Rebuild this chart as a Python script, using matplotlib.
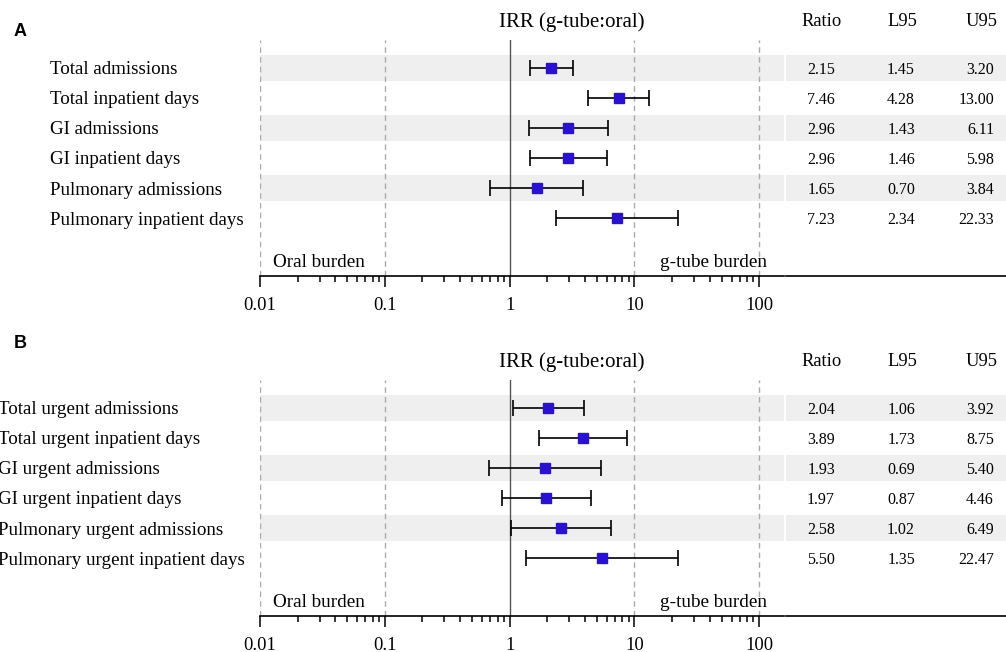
import numpy as np
import matplotlib
matplotlib.use('Agg')
import matplotlib.pyplot as plt
from matplotlib.transforms import blended_transform_factory

plt.rcParams['font.family'] = ['Liberation Serif', 'DejaVu Serif']

# panel A data
labels_a = ["Total admissions", "Total inpatient days", "GI admissions",
            "GI inpatient days", "Pulmonary admissions", "Pulmonary inpatient days"]
ratio_a = [2.15, 7.46, 2.96, 2.96, 1.65, 7.23]
l95_a = [1.45, 4.28, 1.43, 1.46, 0.70, 2.34]
u95_a = [3.20, 13.00, 6.11, 5.98, 3.84, 22.33]

# panel B data
labels_b = ["Total urgent admissions", "Total urgent inpatient days", "GI urgent admissions",
            "GI urgent inpatient days", "Pulmonary urgent admissions",
            "Pulmonary urgent inpatient days"]
ratio_b = [2.04, 3.89, 1.93, 1.97, 2.58, 5.50]
l95_b = [1.06, 1.73, 0.69, 0.87, 1.02, 1.35]
u95_b = [3.92, 8.75, 5.40, 4.46, 6.49, 22.47]

ticks = [0.01, 0.1, 1, 10, 100]
tick_labels = ["0.01", "0.1", "1", "10", "100"]

W, H = 1006, 652
fig = plt.figure(figsize=(W / 100, H / 100), dpi=100)

BAND = '#efefef'
BLUE = '#2a10d0'
VA = 'center_baseline'


def panel(top, labels, ratio, lo, hi, label_x):
    ratio = np.array(ratio)
    lo = np.array(lo)
    hi = np.array(hi)
    y = np.arange(len(labels))
    h = 236
    bottom = 1 - (top + h) / H

    ax = fig.add_axes([260 / W, bottom, 524 / W, h / H])
    ax.set_xscale('log')
    ax.set_xlim(0.01, 158)
    ax.set_ylim(6.933, -0.933)
    for i in range(0, len(labels), 2):
        ax.axhspan(i - 0.433, i + 0.433, color=BAND, lw=0, zorder=0)
    for t in [0.01, 0.1, 10, 100]:
        ax.axvline(t, color='#aaaaaa', lw=1, dashes=(4, 3), zorder=1)
    ax.axvline(1, color='#555555', lw=1, zorder=1)
    ax.errorbar(ratio, y, xerr=[ratio - lo, hi - ratio], fmt='none',
                ecolor='black', elinewidth=1.2, capsize=6, capthick=1.2, zorder=2)
    ax.plot(ratio, y, 's', color=BLUE, markersize=7.5, zorder=3)

    for s in ['top', 'left', 'right']:
        ax.spines[s].set_visible(False)
    ax.spines['bottom'].set_linewidth(1.2)
    ax.set_yticks([])
    ax.set_xticks(ticks)
    ax.set_xticklabels(tick_labels, fontsize=13.3)
    ax.tick_params(axis='x', which='major', length=8, width=1.1, pad=7)
    ax.tick_params(axis='x', which='minor', length=4, width=1.1)

    ax.text(0.0126, 6.43, "Oral burden", fontsize=13.8, va=VA, ha='left')
    ax.text(16, 6.43, "g-tube burden", fontsize=13.8, va=VA, ha='left')

    # row labels on the left
    tr = blended_transform_factory(fig.transFigure, ax.transData)
    for yi, lab in zip(y, labels):
        ax.text(label_x / W, yi, lab, transform=tr, fontsize=13.7,
                va=VA, ha='left', clip_on=False)

    fig.text(572 / W, 1 - (top - 20) / H, "IRR (g-tube:oral)", fontsize=15,
             ha='center', va=VA)

    # table of values
    tb = fig.add_axes([786 / W, bottom, 220 / W, h / H])
    tb.set_xlim(786, 1006)
    tb.set_ylim(6.933, -0.933)
    for i in range(0, len(labels), 2):
        tb.axhspan(i - 0.433, i + 0.433, color=BAND, lw=0, zorder=0)
    for s in ['top', 'left', 'right']:
        tb.spines[s].set_visible(False)
    tb.spines['bottom'].set_linewidth(1.2)
    tb.set_xticks([])
    tb.set_yticks([])
    for yi in y:
        tb.text(835, yi, f"{ratio[yi]:.2f}", fontsize=11.5, ha='right', va=VA)
        tb.text(915, yi, f"{lo[yi]:.2f}", fontsize=11.5, ha='right', va=VA)
        tb.text(994, yi, f"{hi[yi]:.2f}", fontsize=11.5, ha='right', va=VA)
    for xc, head in zip([822, 902, 982], ["Ratio", "L95", "U95"]):
        fig.text(xc / W, 1 - (top - 20) / H, head, fontsize=13.3,
                 ha='center', va=VA)

    return ax


panel(40, labels_a, ratio_a, l95_a, u95_a, 50)
panel(380, labels_b, ratio_b, l95_b, u95_b, -2)

fig.text(20 / W, 1 - 31 / H, "A", fontsize=13, fontweight='bold',
         family='Liberation Sans', ha='center', va='center')
fig.text(20 / W, 1 - 343 / H, "B", fontsize=13, fontweight='bold',
         family='Liberation Sans', ha='center', va='center')

fig.savefig('out.png', dpi=100)
